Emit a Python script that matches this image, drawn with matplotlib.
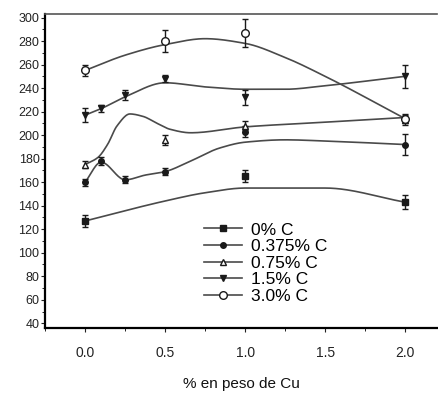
import numpy as np
import matplotlib
matplotlib.use("Agg")
import matplotlib.pyplot as plt
from matplotlib.ticker import MultipleLocator

plt.rcParams['font.family'] = ['Liberation Sans', 'DejaVu Sans']

# Measured hardness values (markers with error bars)
labels = ["0% C", "0.375% C", "0.75% C", "1.5% C", "3.0% C"]

cu_0 = [0.0, 1.0, 2.0]
hv_0 = [127, 165, 143]
err_0 = [5, 5, 6]

cu_0375 = [0.0, 0.1, 0.25, 0.5, 1.0, 2.0]
hv_0375 = [160, 178, 162, 169, 203, 192]
err_0375 = [3, 3, 3, 3, 5, 9]

cu_075 = [0.0, 0.5, 1.0, 2.0]
hv_075 = [175, 196, 208, 213]
err_075 = [3, 4, 4, 4]

cu_15 = [0.0, 0.1, 0.25, 0.5, 1.0, 2.0]
hv_15 = [217, 223, 234, 248, 232, 250]
err_15 = [6, 3, 4, 3, 6, 10]

cu_30 = [0.0, 0.5, 1.0, 2.0]
hv_30 = [255, 280, 287, 214]
err_30 = [5, 9, 12, 4]

# Smoothed trend curves (knots)
tx_0 = [0.0, 0.5, 0.75, 1.0, 1.5, 2.0]
ty_0 = [127, 144, 151, 155, 155, 143]

tx_0375 = [0.0, 0.1, 0.25, 0.375, 0.5, 0.66, 0.84, 1.0, 1.25, 1.5, 2.0]
ty_0375 = [160, 177, 162, 166, 169, 178, 189, 194, 196, 195, 192]

tx_075 = [0.0, 0.08, 0.14, 0.2, 0.28, 0.36, 0.45, 0.53, 0.66, 1.0, 1.5, 2.0]
ty_075 = [175, 181, 192, 208, 218, 216, 210, 205, 202, 207, 211, 215]

tx_15 = [0.0, 0.1, 0.25, 0.5, 0.75, 1.0, 1.25, 1.5, 2.0]
ty_15 = [217, 222.5, 232.5, 244.5, 241, 239, 239, 242, 250]

tx_30 = [0.0, 0.25, 0.5, 0.75, 1.0, 1.25, 1.5, 2.0]
ty_30 = [255, 268, 277, 282, 278, 266, 250, 214]


def pchip(x, y, xs):
    x = np.asarray(x, float)
    y = np.asarray(y, float)
    h = np.diff(x)
    d = np.diff(y) / h
    n = len(x)
    m = np.zeros(n)
    for k in range(1, n - 1):
        if d[k - 1] * d[k] <= 0:
            m[k] = 0.0
        else:
            w1 = 2 * h[k] + h[k - 1]
            w2 = h[k] + 2 * h[k - 1]
            m[k] = (w1 + w2) / (w1 / d[k - 1] + w2 / d[k])
    m[0] = d[0]
    m[-1] = d[-1]
    idx = np.clip(np.searchsorted(x, xs) - 1, 0, n - 2)
    t = (xs - x[idx]) / h[idx]
    h00 = 2 * t**3 - 3 * t**2 + 1
    h10 = t**3 - 2 * t**2 + t
    h01 = -2 * t**3 + 3 * t**2
    h11 = t**3 - t**2
    return (h00 * y[idx] + h10 * h[idx] * m[idx]
            + h01 * y[idx + 1] + h11 * h[idx] * m[idx + 1])


fig = plt.figure(figsize=(4.38, 3.94), dpi=100)
ax = fig.add_axes([0.103, 0.1675, 0.895, 0.797])

line_c = "#4a4a4a"
mark_c = "#1a1a1a"

series = [
    (cu_0, hv_0, err_0, tx_0, ty_0, "s", mark_c, 4.5),
    (cu_0375, hv_0375, err_0375, tx_0375, ty_0375, "o", mark_c, 4),
    (cu_075, hv_075, err_075, tx_075, ty_075, "^", "white", 5),
    (cu_15, hv_15, err_15, tx_15, ty_15, "v", mark_c, 5),
    (cu_30, hv_30, err_30, tx_30, ty_30, "o", "white", 5.5),
]

for (cx, cy, ce, tx, ty, mk, fc, ms), lab in zip(series, labels):
    xs = np.linspace(tx[0], tx[-1], 300)
    ax.plot(xs, pchip(tx, ty, xs), color=line_c, lw=1.2, zorder=2)
    ax.errorbar(cx, cy, yerr=ce, fmt="none", ecolor=mark_c, elinewidth=1.0,
                capsize=2.5, capthick=1.0, zorder=3)
    ax.plot(cx, cy, linestyle="none", marker=mk, ms=ms, mfc=fc,
            mec=mark_c, mew=1.0, zorder=4)
    ax.plot([], [], color=line_c, lw=1.2, marker=mk, ms=ms, mfc=fc,
            mec=mark_c, mew=1.0, label=lab)

ax.set_xlim(-0.25, 2.2)
ax.set_ylim(36, 303)
ax.set_xticks([0.0, 0.5, 1.0, 1.5, 2.0])
ax.set_xticklabels(["0.0", "0.5", "1.0", "1.5", "2.0"])
ax.xaxis.set_minor_locator(MultipleLocator(0.25))
ax.set_yticks(np.arange(40, 301, 20))
ax.yaxis.set_minor_locator(MultipleLocator(10))

ax.spines["right"].set_visible(False)
ax.spines["top"].set_color("#555555")
ax.spines["top"].set_linewidth(1.2)
ax.spines["left"].set_linewidth(1.6)
ax.spines["bottom"].set_linewidth(1.6)

ax.tick_params(axis="y", which="major", direction="out", length=3,
               labelsize=9, pad=1, colors="#222222")
ax.tick_params(axis="y", which="minor", direction="out", length=2)
ax.tick_params(axis="x", which="major", direction="out", length=3,
               labelsize=10, pad=10, colors="#222222")
ax.tick_params(axis="x", which="minor", direction="out", length=2)

ax.set_xlabel("% en peso de Cu", fontsize=11, labelpad=12, color="#111111")

ax.legend(loc="upper left", bbox_to_anchor=(0.375, 0.375), frameon=False,
          fontsize=12.5, handlelength=2.2, handletextpad=0.5,
          labelspacing=0.08, borderpad=0.2, numpoints=1)

fig.savefig("out.png", dpi=100)
